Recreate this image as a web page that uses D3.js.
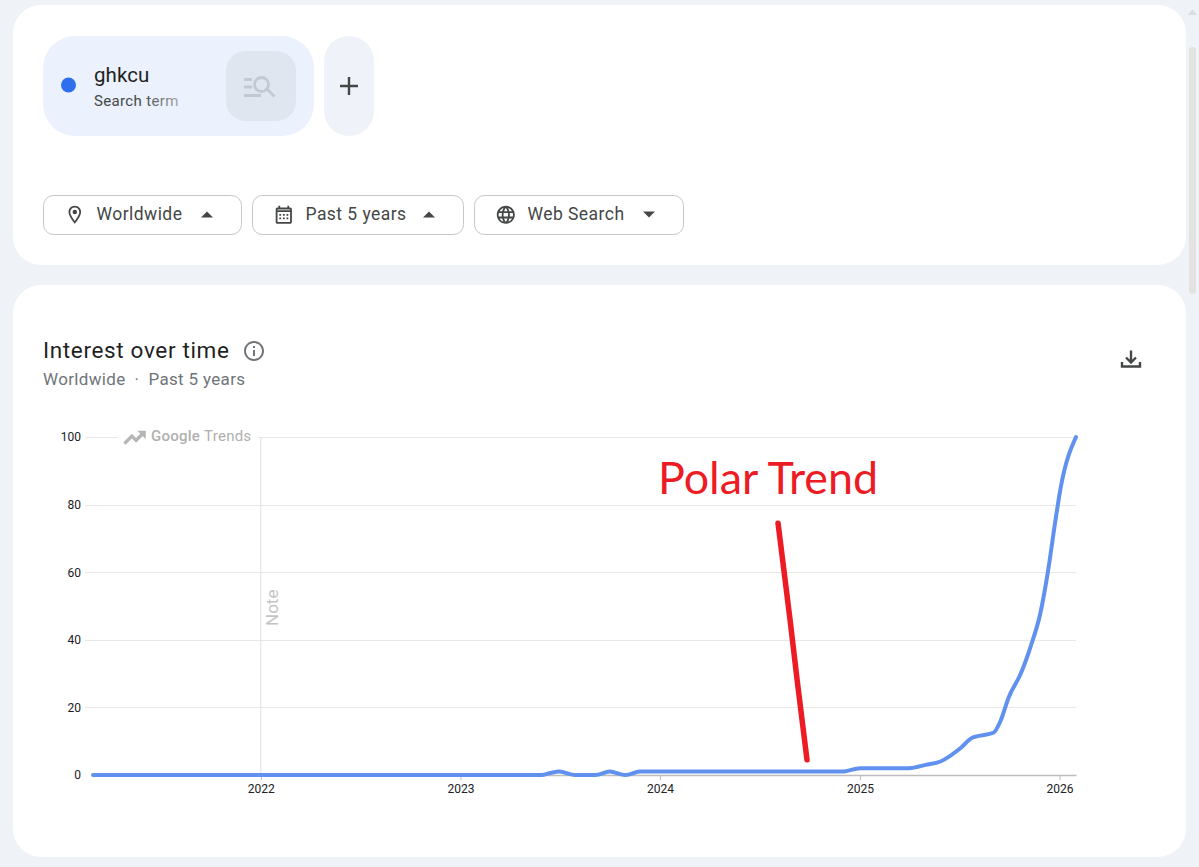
<!DOCTYPE html>
<html>
<head>
<meta charset="utf-8">
<title>Interest over time</title>
<script src="https://cdn.jsdelivr.net/npm/d3@7"></script>
<style>
  html, body { margin: 0; padding: 0; background: #eff3f8; overflow: hidden; }
  svg { display: block; font-family: Roboto, sans-serif; }
  .grid line { stroke: #e8e8e8; stroke-width: 1; }
  .axis-x .tick line { stroke: #bdbdbd; }
  .axis-x .tick text, .axis-y .tick text { font-family: Roboto, sans-serif; font-size: 12px; fill: #202124; }
</style>
</head>
<body>
<svg id="chart" width="1199" height="867"></svg>
<script>
// data
const dates = ["2021-02-28", "2022-01-01", "2023-01-01", "2023-05-29", "2023-06-15", "2023-07-01", "2023-07-30",
  "2023-09-05", "2023-10-01", "2023-10-30", "2023-11-25", "2024-06-01", "2024-11-30", "2025-01-01", "2025-04-01",
  "2025-05-01", "2025-05-28", "2025-07-04", "2025-07-25", "2025-08-04", "2025-09-02", "2025-09-15", "2025-09-30",
  "2025-10-22", "2025-11-09", "2025-11-27", "2025-12-10", "2025-12-25", "2026-01-03", "2026-01-31"];
const values = [0, 0, 0, 0, 0.6, 1, 0,
  0, 1, 0, 1, 1, 1, 2, 2,
  3, 4, 8, 11, 11.5, 12.5, 16, 23,
  30, 38, 48, 59.5, 76, 85, 100];
const yTicks = [0, 20, 40, 60, 80, 100];
const yearTicks = ["2022-01-01", "2023-01-01", "2024-01-01", "2025-01-01", "2026-01-01"];
const noteDate = "2022-01-01";
const annotationDates = ["2024-08-04", "2024-08-26", "2024-09-08", "2024-09-26"];
const annotationValues = [74.5, 45.9, 28, 4.5];

// constants
const margin = { left: 93, right: 123, top: 437, bottom: 92 };
const width = 1199;
const height = 867;
const parse = d3.utcParse("%Y-%m-%d");

const svg = d3.select("svg#chart");

const x = d3.scaleUtc()
  .domain([parse(dates[0]), parse(dates[dates.length - 1])])
  .range([margin.left, width - margin.right]);
const y = d3.scaleLinear()
  .domain([0, 100])
  .range([height - margin.bottom, margin.top]);

// ---- cards
svg.append("rect").attr("x", 13).attr("y", 5).attr("width", 1173).attr("height", 260).attr("rx", 28).attr("fill", "#fff");
svg.append("rect").attr("x", 13).attr("y", 285).attr("width", 1173).attr("height", 572).attr("rx", 28).attr("fill", "#fff");

// scrollbar
svg.append("rect").attr("x", 1189).attr("y", 47).attr("width", 7).attr("height", 247).attr("rx", 3.5).attr("fill", "#e3e3e3");
svg.append("path").attr("d", "M1188 15l4.500-6 4.500 6z").attr("fill", "#dcdee2");

// ---- search term chip
svg.append("rect").attr("x", 43).attr("y", 36).attr("width", 271).attr("height", 100).attr("rx", 32).attr("fill", "#ebf1fd");
svg.append("circle").attr("cx", 68.500).attr("cy", 85).attr("r", 7.500).attr("fill", "#2f6fed");
svg.append("text").attr("x", 94).attr("y", 82).attr("font-size", 20.500).attr("letter-spacing", 0.1).attr("fill", "#1f1f1f").text("ghkcu");

const fade = svg.append("defs").append("linearGradient").attr("id", "fade")
  .attr("gradientUnits", "userSpaceOnUse").attr("x1", 140).attr("x2", 180).attr("y1", 0).attr("y2", 0);
fade.append("stop").attr("offset", 0).attr("stop-color", "#444746");
fade.append("stop").attr("offset", 1).attr("stop-color", "#a4a8ad");
svg.append("text").attr("x", 94).attr("y", 106).attr("font-size", 15).attr("letter-spacing", 0.35).attr("fill", "url(#fade)").text("Search term");

svg.append("rect").attr("x", 226).attr("y", 51).attr("width", 70).attr("height", 70).attr("rx", 20).attr("fill", "#e0e6f0");
const searchIcon = svg.append("g").attr("fill", "none").attr("stroke", "#c3c9d2").attr("stroke-width", 2.800);
searchIcon.append("path").attr("d", "M244 79.500h8M244 87h8M244 95.500h17M267.500 89.500l7 7");
searchIcon.append("circle").attr("cx", 261.500).attr("cy", 84.500).attr("r", 7);

svg.append("rect").attr("x", 324).attr("y", 36).attr("width", 50).attr("height", 100).attr("rx", 25).attr("fill", "#eff2f8");
svg.append("path").attr("d", "M349 77v18M340 86h18").attr("stroke", "#444746").attr("stroke-width", 2.400).attr("fill", "none");

// ---- dropdowns
const icons = {
  place: "M12 2C8.130 2 5 5.130 5 9c0 5.250 7 13 7 13s7-7.750 7-13c0-3.870-3.130-7-7-7zM7 9c0-2.760 2.240-5 5-5s5 2.240 5 5c0 2.880-2.880 7.190-5 9.880C9.920 16.210 7 11.850 7 9zM12 6.500a2.500 2.500 0 1 0 0 5 2.500 2.500 0 0 0 0-5z",
  calendar: "M19 4h-1V2h-2v2H8V2H6v2H5c-1.100 0-2 .9-2 2v14c0 1.100.9 2 2 2h14c1.100 0 2-.9 2-2V6c0-1.100-.9-2-2-2zm0 16H5V9h14v11zM5 7V6h14v1H5zM7 11h2v2H7zM11 11h2v2h-2zM15 11h2v2h-2zM7 15h2v2H7zM11 15h2v2h-2zM15 15h2v2h-2z",
  globe: "M11.990 2C6.470 2 2 6.480 2 12s4.470 10 9.990 10C17.520 22 22 17.520 22 12S17.520 2 11.990 2zm6.930 6h-2.950c-.32-1.250-.78-2.450-1.380-3.560 1.840.63 3.370 1.910 4.330 3.560zM12 4.040c.83 1.200 1.480 2.530 1.910 3.960h-3.820c.43-1.430 1.080-2.760 1.910-3.960zM4.260 14C4.100 13.360 4 12.690 4 12s.1-1.360.26-2h3.380c-.08.66-.14 1.320-.14 2 0 .68.06 1.340.14 2H4.260zm.82 2h2.950c.32 1.250.78 2.450 1.380 3.560-1.840-.63-3.370-1.900-4.330-3.560zm2.950-8H5.080c.96-1.660 2.490-2.930 4.330-3.560C8.810 5.550 8.350 6.750 8.030 8zM12 19.960c-.83-1.200-1.480-2.530-1.910-3.960h3.820c-.43 1.430-1.080 2.760-1.910 3.960zM14.340 14H9.660c-.09-.66-.16-1.320-.16-2 0-.68.07-1.350.16-2h4.680c.09.65.16 1.320.16 2 0 .68-.07 1.340-.16 2zm.25 5.560c.6-1.110 1.060-2.310 1.380-3.560h2.950c-.96 1.650-2.490 2.930-4.330 3.560zM16.360 14c.08-.66.14-1.320.14-2 0-.68-.06-1.340-.14-2h3.380c.16.64.26 1.310.26 2s-.1 1.360-.26 2h-3.380z"
};
const dropLabels = ["Worldwide", "Past 5 years", "Web Search"];
const dropIcons = ["place", "calendar", "globe"];
const dropUp = [true, true, false];
const dropLeft = [43, 252, 474];
const dropWidth = [199, 212, 210];
const dropArrow = [207, 429, 649];

dropLabels.forEach((label, i) => {
  svg.append("rect").attr("x", dropLeft[i] + 0.500).attr("y", 195.500).attr("width", dropWidth[i] - 1).attr("height", 39)
    .attr("rx", 10).attr("fill", "#fff").attr("stroke", "#c4c7c5");
  svg.append("path").attr("d", icons[dropIcons[i]]).attr("fill", "#444746")
    .attr("transform", "translate(" + (dropLeft[i] + 21) + ",204) scale(0.9)");
  svg.append("text").attr("x", dropLeft[i] + 53.500).attr("y", 220).attr("font-size", 17.500).attr("letter-spacing", 0.45).attr("fill", "#444746").text(label);
  const a = dropArrow[i];
  svg.append("path").attr("fill", "#444746")
    .attr("d", dropUp[i] ? "M" + (a - 6) + " 217.500l6-6 6 6z" : "M" + (a - 6) + " 211.500l6 6 6-6z");
});

// ---- chart header
svg.append("text").attr("x", 43).attr("y", 358).attr("font-size", 22.500).attr("letter-spacing", 0.65).attr("fill", "#1f1f1f").text("Interest over time");
svg.append("path").attr("d", "M11 7h2v2h-2zm0 4h2v6h-2zm1-9C6.480 2 2 6.480 2 12s4.480 10 10 10 10-4.480 10-10S17.520 2 12 2zm0 18c-4.410 0-8-3.590-8-8s3.590-8 8-8 8 3.590 8 8-3.590 8-8 8z")
  .attr("fill", "#70757a").attr("transform", "translate(242,339) scale(1)");
svg.append("text").attr("x", 43).attr("y", 385).attr("font-size", 17).attr("letter-spacing", 0.33).attr("fill", "#70757a").text("Worldwide  ·  Past 5 years").attr("xml:space", "preserve");
svg.append("path").attr("d", "M12 3.500v12M7 10.500l5 5 5-5M3 15v4.500h18V15").attr("fill", "none").attr("stroke", "#444746").attr("stroke-width", 2.400)
  .attr("transform", "translate(1119,347)");

// ---- grid
svg.append("g").attr("class", "grid")
  .selectAll("line").data(yTicks.filter(d => d > 0)).enter().append("line")
  .attr("x1", x.range()[0] - 8).attr("x2", x.range()[1])
  .attr("y1", d => Math.round(y(d)) + 0.500).attr("y2", d => Math.round(y(d)) + 0.500);

// note line
svg.append("line").attr("x1", x(parse(noteDate))).attr("x2", x(parse(noteDate)))
  .attr("y1", y(100)).attr("y2", y(0)).attr("stroke", "#e0e0e0");
svg.append("text").attr("transform", "translate(278,626) rotate(-90)").attr("font-size", 17).attr("fill", "#c4c4c4").text("Note");

// google trends logo sits on top of the 100 gridline
svg.append("rect").attr("x", 118).attr("y", 428).attr("width", 140).attr("height", 18).attr("fill", "#fff");
svg.append("path").attr("d", "M16 6l2.290 2.290-4.880 4.880-4-4L2 16.590 3.410 18l6-6 4 4 6.300-6.290L22 12V6z")
  .attr("fill", "#b5b5b5").attr("stroke", "#b5b5b5").attr("stroke-width", 1.200).attr("transform", "translate(122,425) scale(1.050)");
const logo = svg.append("text").attr("x", 151).attr("y", 441).attr("font-size", 15).attr("letter-spacing", 0.25).attr("fill", "#b0b0b0");
logo.append("tspan").attr("font-weight", 500).text("Google ");
logo.append("tspan").text("Trends");

// ---- axes
const axisY = d3.axisLeft(y).tickValues(yTicks).tickSize(0).tickPadding(12);
svg.append("g").attr("class", "axis-y")
  .attr("transform", "translate(" + x.range()[0] + ",0)")
  .call(axisY)
  .call(g => g.select(".domain").remove());

const axisX = d3.axisBottom(x).tickValues(yearTicks.map(parse)).tickFormat(d3.utcFormat("%Y")).tickSizeInner(5).tickSizeOuter(0).tickPadding(4);
svg.append("g").attr("class", "axis-x")
  .attr("transform", "translate(0," + y(0) + ")")
  .call(axisX)
  .call(g => g.select(".domain").attr("stroke", "#bdbdbd").attr("stroke-width", 1.500));

// ---- series
const line = d3.line()
  .x((d, i) => x(parse(dates[i])))
  .y(d => y(d))
  .curve(d3.curveMonotoneX);
svg.append("path").datum(values)
  .attr("d", line)
  .attr("fill", "none")
  .attr("stroke", "#6091ee")
  .attr("stroke-width", 4)
  .attr("stroke-linecap", "round");

// ---- hand drawn annotation
svg.append("text").attr("x", 658).attr("y", 494).attr("font-family", "Lato, sans-serif")
  .attr("font-size", 44.800).attr("fill", "#ed1c24").text("Polar Trend");
svg.append("path").datum(annotationValues)
  .attr("d", d3.line().x((d, i) => x(parse(annotationDates[i]))).y(d => y(d)))
  .attr("stroke", "#ed1c24").attr("stroke-width", 5.500).attr("stroke-linecap", "round").attr("stroke-linejoin", "round").attr("fill", "none");
</script>
</body>
</html>
